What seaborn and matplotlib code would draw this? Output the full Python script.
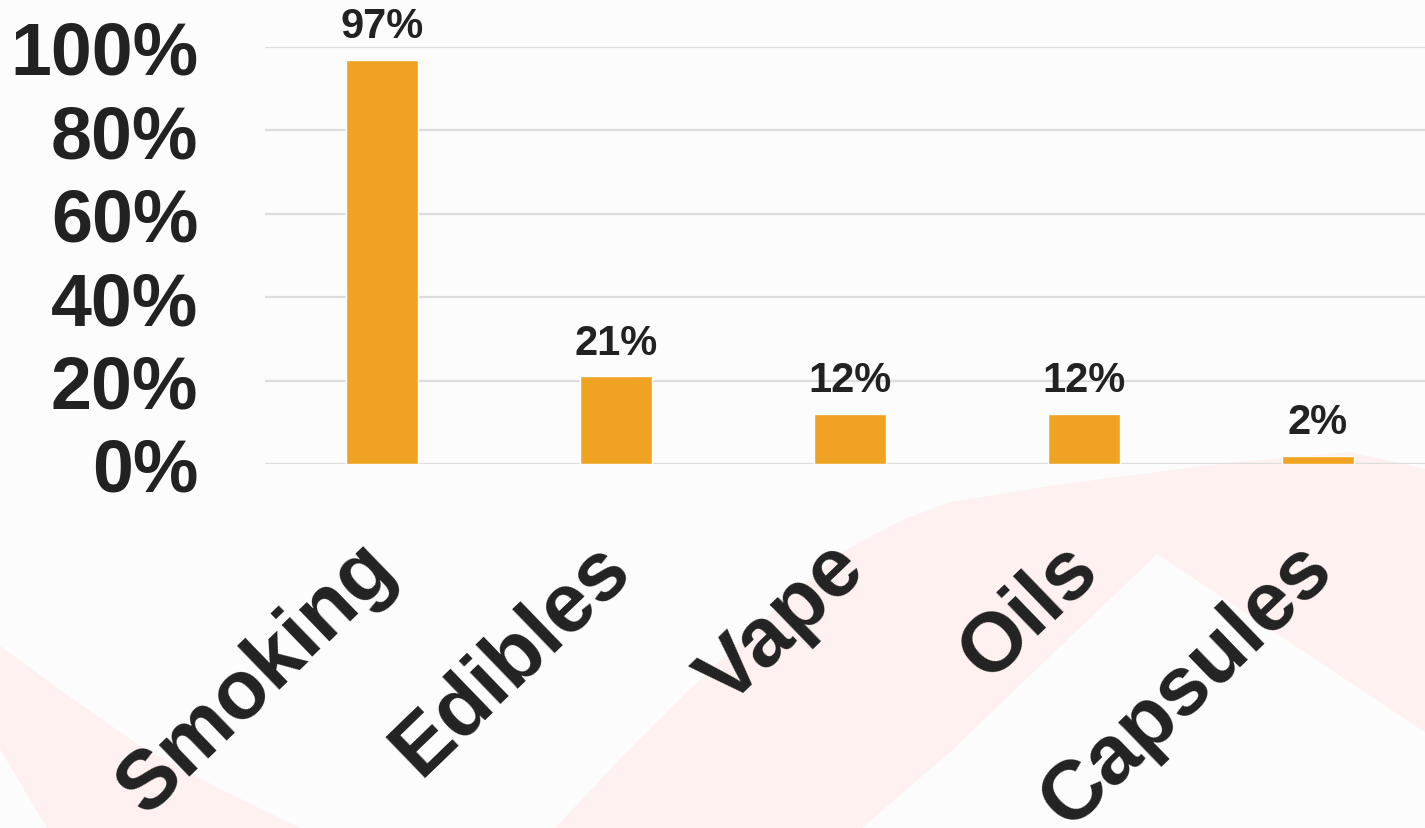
import matplotlib
matplotlib.use("Agg")
import matplotlib.pyplot as plt
from matplotlib.patches import Polygon
from matplotlib.transforms import ScaledTranslation
import seaborn as sns
import pandas as pd

# Consumption methods and share of respondents (%)
methods = ["Smoking", "Edibles", "Vape", "Oils", "Capsules"]
shares = [97, 21, 12, 12, 2]
y_ticks = [0, 20, 40, 60, 80, 100]
y_tick_labels = ["0%", "20%", "40%", "60%", "80%", "100%"]

BAR_COLOR = "#F0A322"
TEXT_COLOR = "#222222"
GRID_COLOR = "#DDDDDD"
BG_COLOR = "#FCFCFC"
WAVE_COLOR = "#FEF1F0"

sns.set_theme(style="white")
plt.rcParams["font.family"] = ["Liberation Sans", "DejaVu Sans"]
plt.rcParams["font.weight"] = "bold"

W, H = 1425, 829
fig = plt.figure(figsize=(W / 100, H / 100), dpi=100, facecolor=BG_COLOR)

# soft decorative waves in the background (figure pixel space)
def px(points):
    return [(x / W, 1 - y / H) for x, y in points]

waves = [
    [(0, 647), (70, 698), (140, 747), (220, 790), (300, 829), (47, 829), (0, 750)],
    [(555, 829), (620, 760), (690, 690), (770, 615), (842, 553), (900, 522),
     (950, 503), (1050, 487), (1217, 465), (1350, 453), (1425, 470),
     (1425, 733), (1157, 555), (950, 753), (862, 829)],
]
for pts in waves:
    fig.patches.append(Polygon(px(pts), closed=True, transform=fig.transFigure,
                               facecolor=WAVE_COLOR, edgecolor="none", zorder=-5))

ax = fig.add_axes([265 / W, 1 - 465 / H, (W - 265) / W, (465 - 48) / H])
ax.set_facecolor("none")
ax.set_zorder(2)

df = pd.DataFrame({"method": methods, "share": shares})
sns.barplot(data=df, x="method", y="share", color=BAR_COLOR, saturation=1,
            width=0.31, ax=ax, zorder=3)

ax.set_xlim(-0.5, 4.457)
ax.set_ylim(0, 100)
ax.set_yticks(y_ticks)
ax.set_yticklabels(y_tick_labels)
ax.set_xlabel("")
ax.set_ylabel("")

ax.yaxis.grid(True, color=GRID_COLOR, linewidth=1.6, zorder=1)
ax.xaxis.grid(False)
ax.set_axisbelow(True)
for s in ax.spines.values():
    s.set_visible(False)

ax.tick_params(axis="y", length=0, pad=48, labelsize=53, labelcolor=TEXT_COLOR)
ax.tick_params(axis="x", length=0, pad=10, labelsize=60, labelcolor=TEXT_COLOR)
for lbl in ax.get_yticklabels():
    lbl.set_fontweight("bold")

shift = ScaledTranslation(2 / 100, -78 / 100, fig.dpi_scale_trans)
for lbl in ax.get_xticklabels():
    lbl.set_rotation(44)
    lbl.set_ha("right")
    lbl.set_va("center")
    lbl.set_rotation_mode("anchor")
    lbl.set_fontweight("bold")
    lbl.set_transform(lbl.get_transform() + shift)

for cont in ax.containers:
    ax.bar_label(cont, labels=[f"{v}%" for v in shares], padding=10,
                 fontsize=30, fontweight="bold", color=TEXT_COLOR, clip_on=False)

fig.savefig("out.png", dpi=100, facecolor=BG_COLOR)
